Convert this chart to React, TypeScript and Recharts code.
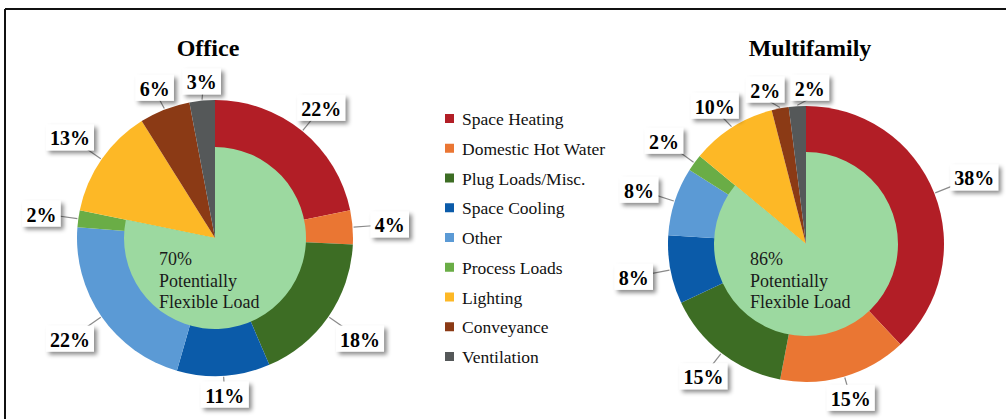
import React from "react";
import { PieChart, Pie, Cell } from "recharts";

const categories = [
  "Space Heating",
  "Domestic Hot Water",
  "Plug Loads/Misc.",
  "Space Cooling",
  "Other",
  "Process Loads",
  "Lighting",
  "Conveyance",
  "Ventilation",
];

const colors = [
  "#b21e26",
  "#ea7633",
  "#3d6d24",
  "#0b5ba9",
  "#5b9ad5",
  "#6aad46",
  "#fdb826",
  "#8b3a15",
  "#555859",
];

const officeValues = [22, 4, 18, 11, 22, 2, 13, 6, 3];
const multifamilyValues = [38, 15, 15, 8, 8, 2, 10, 2, 2];

// the first six end uses count as potentially flexible load
const flexibleCount = 6;
const officeFlexText = "70%";
const multifamilyFlexText = "86%";

const FLEX_GREEN = "#9cd9a0";
const SERIF = '"Liberation Serif", "Times New Roman", Times, "DejaVu Serif", serif';
const RAD = Math.PI / 180;
const R_OUT = 138;
const LABEL_H = 26;

const toRows = (values: number[]) =>
  values.map((v, i) => ({ name: categories[i], value: v }));

const toFlexRows = (values: number[]) => {
  const flex = values.slice(0, flexibleCount).reduce((a, b) => a + b, 0);
  const rest = values.slice(flexibleCount).reduce((a, b) => a + b, 0);
  return [
    { name: "flexible", value: flex },
    { name: "rest", value: rest },
  ];
};

const labelWidth = (v: number) => String(v).length * 9.5 + 19 + 10;

// labels sit closer to the rim at top/bottom than at the sides
const gapFor = (ux: number) => 5 + 13 * Math.abs(ux);

// place a box just outside the rim at the given angle (deg, counter-clockwise from 3 o'clock)
function boxAt(angle: number, w: number) {
  const ux = Math.cos(-angle * RAD);
  const uy = Math.sin(-angle * RAD);
  const hx = Math.abs(ux) > 1e-6 ? w / 2 / Math.abs(ux) : Infinity;
  const hy = Math.abs(uy) > 1e-6 ? LABEL_H / 2 / Math.abs(uy) : Infinity;
  const gap = gapFor(ux);
  const d = R_OUT + gap + Math.min(hx, hy);
  return { x: d * ux, y: d * uy, ux, uy, gap };
}

// spread label angles so neighbouring boxes don't collide
function spreadAngles(values: number[]) {
  const total = values.reduce((a, b) => a + b, 0);
  let acc = 0;
  const ang = values.map((v) => {
    const mid = 90 - ((acc + v / 2) / total) * 360;
    acc += v;
    return mid;
  });
  const ws = values.map(labelWidth);
  for (let it = 0; it < 200; it++) {
    let moved = false;
    for (let i = 0; i < ang.length; i++) {
      const j = (i + 1) % ang.length;
      const a = boxAt(ang[i], ws[i]);
      const b = boxAt(ang[j], ws[j]);
      const ox = (ws[i] + ws[j]) / 2 + 6 - Math.abs(a.x - b.x);
      const oy = LABEL_H + 4 - Math.abs(a.y - b.y);
      if (ox > 0 && oy > 0) {
        ang[i] += 0.5;
        ang[j] -= 0.5;
        moved = true;
      }
    }
    if (!moved) break;
  }
  return ang;
}

const officeLabelAngles = spreadAngles(officeValues);
const multifamilyLabelAngles = spreadAngles(multifamilyValues);

const makeLabel = (angles: number[]) => (props: any) => {
  const { cx, cy, value, index } = props;
  const w = labelWidth(value);
  const p = boxAt(angles[index], w);
  const m = boxAt(props.midAngle, w);
  const bx = cx + p.x;
  const by = cy + p.y;
  return (
    <g>
      <line
        x1={cx + (R_OUT + 1) * m.ux}
        y1={cy + (R_OUT + 1) * m.uy}
        x2={cx + (R_OUT + p.gap + 2) * p.ux}
        y2={cy + (R_OUT + p.gap + 2) * p.uy}
        stroke="#8a8a8a"
        strokeWidth={1.2}
      />
      <rect
        x={bx - w / 2}
        y={by - LABEL_H / 2}
        width={w}
        height={LABEL_H}
        fill="#fff"
        filter="url(#boxShadow)"
      />
      <text
        x={bx}
        y={by + 1}
        textAnchor="middle"
        dominantBaseline="central"
        style={{ fontFamily: SERIF, fontWeight: "bold", fontSize: 20 }}
        fill="#000"
      >
        {`${value}%`}
      </text>
    </g>
  );
};

function FlexText({ x, y, pct }: { x: number; y: number; pct: string }) {
  return (
    <text x={x} y={y} style={{ fontFamily: SERIF, fontSize: 18 }} fill="#1a1a1a">
      <tspan x={x} dy={0}>{pct}</tspan>
      <tspan x={x} dy={22}>Potentially</tspan>
      <tspan x={x} dy={21}>Flexible Load</tspan>
    </text>
  );
}

export default function App() {
  return (
    <div style={{ position: "absolute", left: 0, top: 0, width: 1006, height: 419, background: "#fff", fontFamily: SERIF }}>
      <PieChart width={1006} height={419} margin={{ top: 0, right: 0, bottom: 0, left: 0 }}>
        <Pie
          data={toRows(officeValues)}
          dataKey="value"
          cx={215}
          cy={238}
          outerRadius={R_OUT}
          startAngle={90}
          endAngle={-270}
          stroke="none"
          label={makeLabel(officeLabelAngles)}
          labelLine={false}
          isAnimationActive={false}
        >
          {officeValues.map((_, i) => (
            <Cell key={i} fill={colors[i]} />
          ))}
        </Pie>
        <Pie
          data={toFlexRows(officeValues)}
          dataKey="value"
          cx={215}
          cy={238}
          outerRadius={91}
          startAngle={90}
          endAngle={-270}
          stroke="none"
          isAnimationActive={false}
        >
          <Cell fill={FLEX_GREEN} />
          <Cell fill="transparent" />
        </Pie>
        <Pie
          data={toRows(multifamilyValues)}
          dataKey="value"
          cx={806}
          cy={244}
          outerRadius={R_OUT}
          startAngle={90}
          endAngle={-270}
          stroke="none"
          label={makeLabel(multifamilyLabelAngles)}
          labelLine={false}
          isAnimationActive={false}
        >
          {multifamilyValues.map((_, i) => (
            <Cell key={i} fill={colors[i]} />
          ))}
        </Pie>
        <Pie
          data={toFlexRows(multifamilyValues)}
          dataKey="value"
          cx={806}
          cy={244}
          outerRadius={92}
          startAngle={90}
          endAngle={-270}
          stroke="none"
          isAnimationActive={false}
        >
          <Cell fill={FLEX_GREEN} />
          <Cell fill="transparent" />
        </Pie>
      </PieChart>

      <svg
        width={1006}
        height={419}
        style={{ position: "absolute", left: 0, top: 0, pointerEvents: "none" }}
      >
        <defs>
          <filter id="boxShadow" x="-30%" y="-30%" width="170%" height="180%">
            <feDropShadow dx={3} dy={3} stdDeviation={2} floodColor="#000" floodOpacity={0.45} />
          </filter>
        </defs>
        <line x1={5} y1={9} x2={1006} y2={9} stroke="#111" strokeWidth={2} />
        <line x1={5} y1={9} x2={5} y2={419} stroke="#111" strokeWidth={2} />

        <text x={208} y={56} textAnchor="middle" style={{ fontFamily: SERIF, fontWeight: "bold", fontSize: 24 }}>
          Office
        </text>
        <text x={810} y={56} textAnchor="middle" style={{ fontFamily: SERIF, fontWeight: "bold", fontSize: 24 }}>
          Multifamily
        </text>

        <FlexText x={159} y={265} pct={officeFlexText} />
        <FlexText x={750} y={265} pct={multifamilyFlexText} />

        {categories.map((c, i) => (
          <g key={c}>
            <rect x={445} y={114 + i * 29.75} width={9} height={9} fill={colors[i]} />
            <text x={462} y={125 + i * 29.75} style={{ fontFamily: SERIF, fontSize: 17.5 }} fill="#111">
              {c}
            </text>
          </g>
        ))}
      </svg>
    </div>
  );
}
